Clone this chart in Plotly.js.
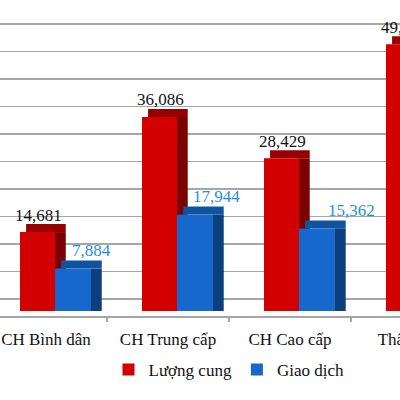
<!DOCTYPE html>
<html>
<head>
<meta charset="utf-8">
<script src="https://cdn.plot.ly/plotly-3.0.1.min.js"></script>
<style>html,body{margin:0;padding:0;background:#fff;overflow:hidden;}#chart{width:440px;height:400px;}</style>
</head>
<body>
<div id="chart"></div>
<script>
const categories = ["CH Bình dân", "CH Trung cấp", "CH Cao cấp", "Thấp tầng"];
const supplyValues = [14681, 36086, 28429, 49600];
const dealValues = [7884, 17944, 15362, 21000];
const seriesNames = ["Lượng cung", "Giao dịch"];

const fmt = v => v.toLocaleString("en-US");
const serif = "Liberation Serif";
const depth = 1490; // visual depth of the 3D-like top face, in axis units

function topFace(vals) { return vals.map(() => depth); }

const traces = [
  {type: "bar", x: categories, y: supplyValues, width: 0.09, offset: 0.072,
   marker: {color: "#7d0000"}, showlegend: false, hoverinfo: "skip"},
  {type: "bar", x: categories, y: topFace(supplyValues), base: supplyValues, width: 0.325, offset: -0.163,
   marker: {color: "#980000"}, showlegend: false, hoverinfo: "skip"},
  {type: "bar", x: categories, y: supplyValues, width: 0.287, offset: -0.213,
   marker: {color: "#d20000"}, name: seriesNames[0]},
  {type: "bar", x: categories, y: dealValues, width: 0.09, offset: 0.367,
   marker: {color: "#0b3f7e"}, showlegend: false, hoverinfo: "skip"},
  {type: "bar", x: categories, y: topFace(dealValues), base: dealValues, width: 0.333, offset: 0.124,
   marker: {color: "#11539f"}, showlegend: false, hoverinfo: "skip"},
  {type: "bar", x: categories, y: dealValues, width: 0.295, offset: 0.074,
   marker: {color: "#1668cc"}, name: seriesNames[1]}
];

const blueShift = [46, 49, 62, 50];
const annotations = [];
categories.forEach((c, i) => {
  annotations.push({x: c, y: supplyValues[i], text: fmt(supplyValues[i]), showarrow: false,
    xshift: -7, yshift: 17, yanchor: "middle", font: {family: serif, size: 17, color: "#111"}});
  annotations.push({x: c, y: dealValues[i], text: fmt(dealValues[i]), showarrow: false,
    xshift: blueShift[i], yshift: 18, yanchor: "middle", font: {family: serif, size: 17, color: "#1f8fe6"}});
});

const layout = {
  width: 440, height: 400,
  margin: {l: 0, r: 0, t: 0, b: 84},
  paper_bgcolor: "#fff", plot_bgcolor: "#fff",
  barmode: "overlay",
  xaxis: {type: "category", range: [-0.377, 3.23], showline: true, linecolor: "#a6a6a6", linewidth: 1.5,
    ticks: "outside", tickson: "boundaries", ticklen: 4, tickcolor: "#a6a6a6", tickwidth: 1.5,
    ticklabelstandoff: 7, showgrid: false, tickfont: {family: serif, size: 17, color: "#111"}},
  yaxis: {range: [-930, 57846], tick0: 2232, dtick: 5115, showticklabels: false, zeroline: false,
    gridcolor: "#a6a6a6", gridwidth: 1.5, ticks: ""},
  showlegend: true,
  legend: {orientation: "h", x: 229 / 440, xanchor: "center", y: -0.171, yanchor: "middle",
    font: {family: serif, size: 17, color: "#111"}},
  annotations: annotations
};

Plotly.newPlot("chart", traces, layout, {displayModeBar: false, staticPlot: true});
</script>
</body>
</html>
